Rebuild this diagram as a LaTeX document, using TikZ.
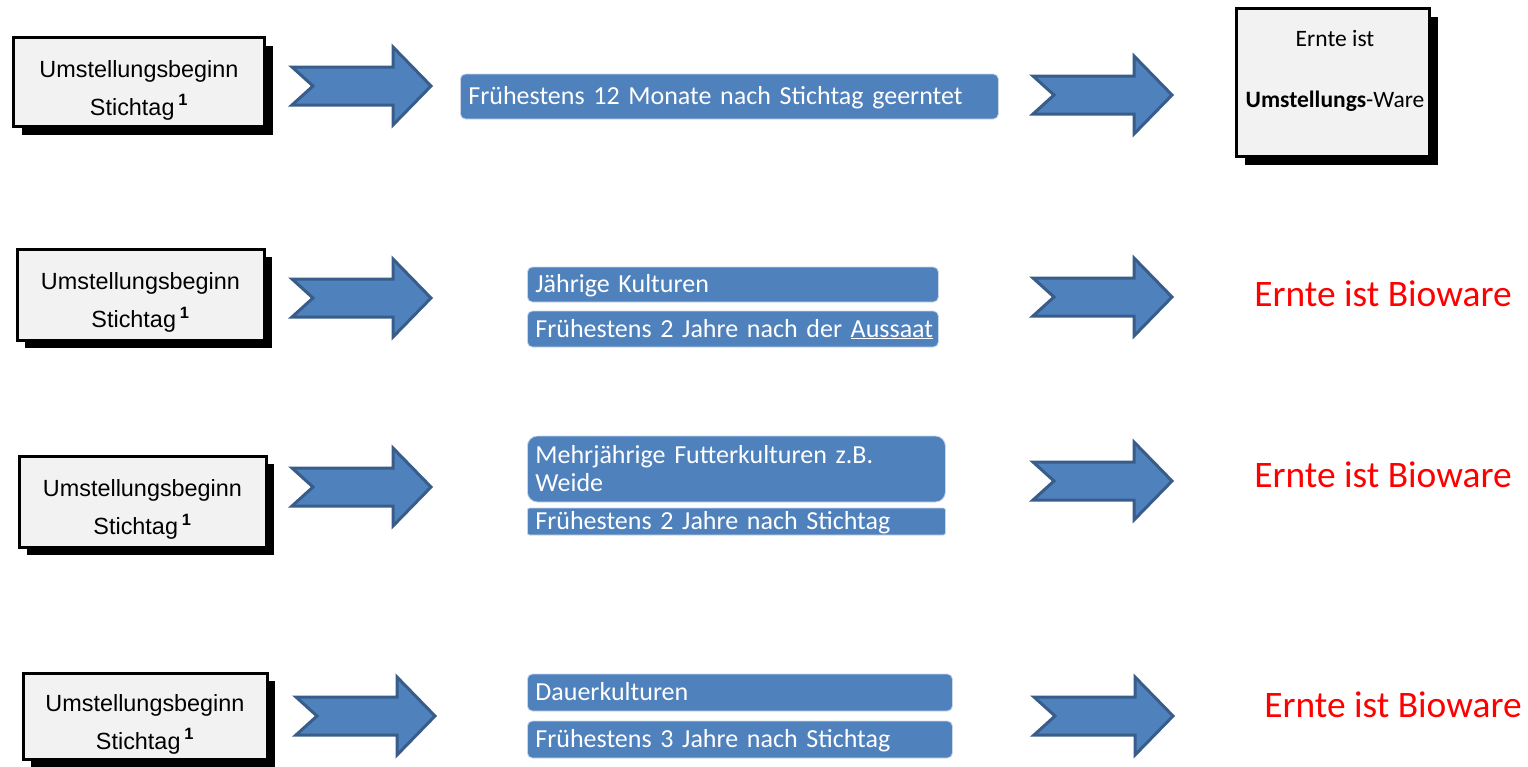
\documentclass[tikz,border=0pt]{standalone}
\usepackage{fontspec}
\setmainfont{Carlito}
\newfontfamily\arialfont{Liberation Sans}
\usetikzlibrary{positioning, shadows}
\definecolor{boxgray}{HTML}{F2F2F2}
\definecolor{arrowface}{HTML}{4F81BD}
\definecolor{arrowedge}{HTML}{385D8A}
\definecolor{blueface}{HTML}{4F81BD}
\definecolor{blueedge}{HTML}{C9D6E8}

\begin{document}
\begin{tikzpicture}[x=1pt, y=-1pt,
  umbox/.style={draw=black, line width=3pt, fill=boxgray,
    drop shadow={shadow xshift=8pt, shadow yshift=-8pt, opacity=1, fill=black},
    align=center, inner sep=0pt, minimum width=247pt, minimum height=91pt,
    text height=72pt, text depth=6pt,
    font=\arialfont\fontsize{23.4}{38}\selectfont},
  warebox/.style={draw=black, line width=3pt, fill=boxgray,
    drop shadow={shadow xshift=8pt, shadow yshift=-8pt, opacity=1, fill=black},
    minimum width=193pt, minimum height=148pt},
  waretext/.style={font=\fontsize{23.5}{25}\selectfont},
  blubase/.style={fill=blueface, draw=blueedge, line width=0.8pt, rounded corners=5pt,
    text=white, anchor=west, align=left, inner xsep=8pt, inner ysep=0pt,
    font=\fontsize{26}{28}\selectfont},
  blubox/.style={blubase, text height=20pt, text depth=4pt},
  bio/.style={text=red, font=\fontsize{37.4}{40}\selectfont},
  arrowshape/.style={fill=arrowface, draw=arrowedge, line width=3pt, line join=miter},
  bigarrow/.pic={\draw[arrowshape] (0,-19) -- (101,-19) -- (101,-39) -- (139,0)
    -- (101,39) -- (101,19) -- (0,19) -- (21,0) -- cycle;}]
\useasboundingbox (0,0) rectangle (1528,766);
% Row 1: Umstellungs-Ware
\node[umbox, minimum width=251pt, minimum height=89pt] (start1) at (139,82)
  {Umstellungsbeginn\\ Stichtag\,\textsuperscript{\bfseries 1}};
\pic at (292,86) {bigarrow};
\node[blubox, text width=522pt, minimum height=45pt] (frist1) at (460,96.5)
  {Frühestens 12 Monate nach Stichtag geerntet};
\pic at (1033,95) {bigarrow};
\node[warebox] (ware) at (1333,82.5) {};
\node[waretext] (ware1) at (1335,38) {Ernte ist};
\node[waretext] (ware2) at (1335,101) {\textbf{Umstellungs}-Ware};
% Row 2: jaehrige Kulturen
\node[umbox] (start2) at (140.5,294.5)
  {Umstellungsbeginn\\ Stichtag\,\textsuperscript{\bfseries 1}};
\pic at (292,298) {bigarrow};
\node[blubox, text width=395pt, minimum height=35pt] (kultur2) at (527,284.5)
  {Jährige Kulturen};
\node[blubox, text width=395pt, minimum height=36pt] (frist2) at (527,329)
  {\mbox{Frühestens 2 Jahre nach der \underline{Aussaat}}};
\pic at (1033,297) {bigarrow};
\node[bio] (bio2) at (1383,294) {Ernte ist Bioware};
% Row 3: Futterkulturen
\node[umbox] (start3) at (142.5,501.5)
  {Umstellungsbeginn\\ Stichtag\,\textsuperscript{\bfseries 1}};
\pic at (292,487) {bigarrow};
\node[blubase, text width=402pt, minimum height=66pt, rounded corners=10pt] (kultur3)
  at (527,469) {Mehrjährige Futterkulturen z.B.\\ Weide};
\node[blubox, text width=402pt, minimum height=27pt, rounded corners=2pt] (frist3)
  at (527,521.5) {Frühestens 2 Jahre nach Stichtag};
\pic at (1033,481) {bigarrow};
\node[bio] (bio3) at (1383,475) {Ernte ist Bioware};
% Row 4: Dauerkulturen
\node[umbox, minimum width=244pt, minimum height=86pt] (start4) at (145,716)
  {Umstellungsbeginn\\ Stichtag\,\textsuperscript{\bfseries 1}};
\pic at (296,716) {bigarrow};
\node[blubox, text width=409pt, minimum height=37pt] (kultur4) at (527,692.5)
  {Dauerkulturen};
\node[blubox, text width=409pt, minimum height=37pt] (frist4) at (527,739.5)
  {Frühestens 3 Jahre nach Stichtag};
\pic at (1034,716) {bigarrow};
\node[bio] (bio4) at (1393,705) {Ernte ist Bioware};
\end{tikzpicture}
\end{document}
